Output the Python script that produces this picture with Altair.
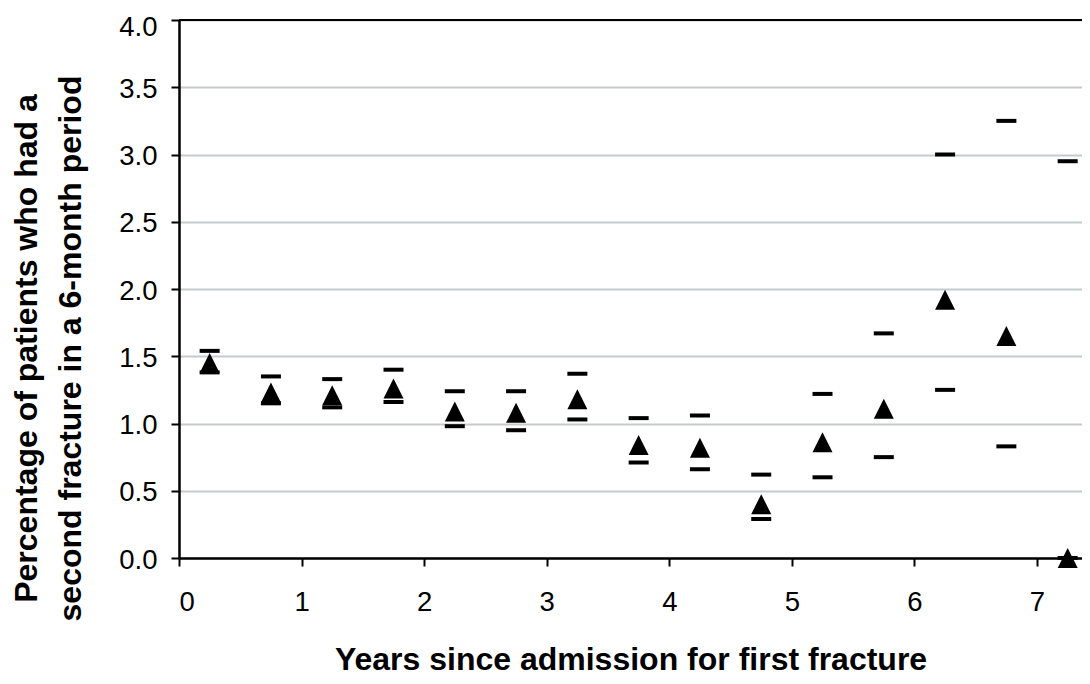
import altair as alt
import pandas as pd

# Data
years = [0.25, 0.75, 1.25, 1.75, 2.25, 2.75, 3.25, 3.75, 4.25, 4.75, 5.25, 5.75, 6.25, 6.75, 7.25]
rate = [1.45, 1.23, 1.21, 1.26, 1.09, 1.08, 1.18, 0.84, 0.82, 0.40, 0.86, 1.11, 1.92, 1.65, 0.00]
upper = [1.54, 1.35, 1.33, 1.40, 1.24, 1.24, 1.37, 1.04, 1.06, 0.62, 1.22, 1.67, 3.00, 3.25, 2.95]
lower = [1.38, 1.15, 1.12, 1.16, 0.98, 0.95, 1.03, 0.71, 0.66, 0.29, 0.60, 0.75, 1.25, 0.83, 0.00]
x_ticks = [0, 1, 2, 3, 4, 5, 6, 7]
y_ticks = [0.0, 0.5, 1.0, 1.5, 2.0, 2.5, 3.0, 3.5, 4.0]
y_top = [4.0]

x_title = "Years since admission for first fracture"
y_title = ["Percentage of patients who had a", "second fracture in a 6-month period"]

df = pd.DataFrame({"year": years, "rate": rate, "upper": upper, "lower": lower})
top_df = pd.DataFrame({"y": y_top})

FONT = "Liberation Sans, Arial, sans-serif"

xs = alt.Scale(domain=[0, 7.367], nice=False, zero=False)
ys = alt.Scale(domain=[0, 4], nice=False)

x_axis = alt.Axis(
    values=x_ticks, format="d", grid=False, title=x_title,
    titleFontSize=32, titleFontWeight="bold", titleBaseline="alphabetic",
    titleY=111, labelPadding=22,
)
y_axis = alt.Axis(
    values=y_ticks, format=".1f", grid=True, gridColor="#c3cbcb", gridWidth=2,
    title=y_title, titleFontSize=32, titleFontWeight="bold",
    titleBaseline="alphabetic", titleAngle=270, titleAlign="center",
    titleX=-143, titleY=328, titleLineHeight=44,
    labelPadding=14,
    labelOffset={"condition": {"test": "datum.value >= 4", "value": 7}, "value": 2},
)

X = alt.X("year:Q", scale=xs, axis=x_axis)

top_rule = alt.Chart(top_df).mark_rule(color="black", strokeWidth=2).encode(
    y=alt.Y("y:Q", scale=ys, axis=y_axis)
)

tri = alt.Chart(df).mark_point(
    shape="M0,-1L-1,1L1,1Z", filled=True, size=400, color="black", opacity=1
).encode(x=X, y=alt.Y("rate:Q", scale=ys, axis=y_axis))

up = alt.Chart(df).mark_tick(
    orient="horizontal", size=20, thickness=4, color="black", opacity=1
).encode(x=X, y=alt.Y("upper:Q", scale=ys, axis=y_axis))

lo = alt.Chart(df).mark_tick(
    orient="horizontal", size=20, thickness=4, color="black", opacity=1
).encode(x=X, y=alt.Y("lower:Q", scale=ys, axis=y_axis))

chart = (
    alt.layer(top_rule, tri, up, lo)
    .properties(
        width=903, height=538,
        autosize=alt.AutoSizeParams(type="none"),
        padding={"left": 171, "top": 12, "right": 0, "bottom": 118},
        background="white",
    )
    .configure_view(strokeWidth=0)
    .configure_axis(
        labelFont=FONT, labelFontSize=27.5, labelColor="black",
        titleFont=FONT, titleColor="black",
        tickColor="black", tickSize=8, tickWidth=2,
        domainColor="black", domainWidth=2.5,
    )
)

chart.save("out.html", embed_options={"renderer": "svg", "actions": False})
